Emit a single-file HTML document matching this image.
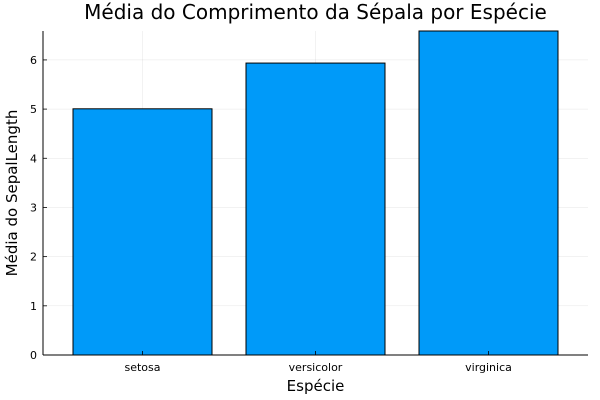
<!DOCTYPE html>
<html><head><meta charset="utf-8"><style>
body{margin:0;background:#fff;}
svg{display:block;font-family:"DejaVu Sans","Liberation Sans",sans-serif;}
</style></head><body>
<svg id="chart" width="600" height="400"></svg>
<script>
const categories = ["setosa","versicolor","virginica"];
const values = [5.006, 5.936, 6.588];
const yTicks = [0,1,2,3,4,5,6];

const svg = document.getElementById('chart');
const NS = 'http://www.w3.org/2000/svg';
const L = 43, R = 588, T = 31, B = 355;
const yMax = Math.max(...values);
function y(v){ return B - (v / yMax) * (B - T); }
function xc(i){ return 142.5 + i * 173; }
const bw = 139;
function mk(tag, attrs, parent){
  const e = document.createElementNS(NS, tag);
  for (const k in attrs) e.setAttribute(k, attrs[k]);
  (parent || svg).appendChild(e);
  return e;
}
yTicks.forEach(t => {
  const g = mk('line', {x1:L, x2:R, y1:y(t), y2:y(t), stroke:'#000', 'stroke-opacity':0.1, 'stroke-width':0.5});
  
  
});
categories.forEach((c, i) => {
  const g = mk('line', {x1:xc(i), x2:xc(i), y1:T, y2:B, stroke:'#000', 'stroke-opacity':0.1, 'stroke-width':0.5});
  
  
});
categories.forEach((c, i) => {
  const r = mk('rect', {x:xc(i)-bw/2, y:y(values[i]), width:bw, height:B-y(values[i]), fill:'#009af9', stroke:'#000', 'stroke-width':1});
  
  
});
const ax = mk('line', {x1:L, x2:R, y1:B, y2:B, stroke:'#000', 'stroke-width':1});


const ay = mk('line', {x1:L, x2:L, y1:T, y2:B, stroke:'#000', 'stroke-width':1});


yTicks.forEach(t => {
  const tk = mk('line', {x1:L, x2:L+4, y1:y(t), y2:y(t), stroke:'#000', 'stroke-width':0.8});
  
  
  const tx = mk('text', {x:L-6, y:y(t)+4, 'text-anchor':'end', 'font-size':11, fill:'#000'});
  tx.textContent = t;
  
  
});
categories.forEach((c, i) => {
  const tk = mk('line', {x1:xc(i), x2:xc(i), y1:B, y2:B-4, stroke:'#000', 'stroke-width':0.8});
  
  
  const tx = mk('text', {x:xc(i), y:B+16, 'text-anchor':'middle', 'font-size':11, fill:'#000'});
  tx.textContent = c;
  
  
});
const title = mk('text', {x:315.5, y:19, 'text-anchor':'middle', 'font-size':20, fill:'#000'});
title.textContent = 'Média do Comprimento da Sépala por Espécie';


const xt = mk('text', {x:315.5, y:391, 'text-anchor':'middle', 'font-size':15, fill:'#000'});
xt.textContent = 'Espécie';


const yt = mk('text', {x:0, y:0, 'text-anchor':'middle', 'font-size':15, fill:'#000', transform:'translate(17,193) rotate(-90)'});
yt.textContent = 'Média do SepalLength';


</script>
</body></html>
